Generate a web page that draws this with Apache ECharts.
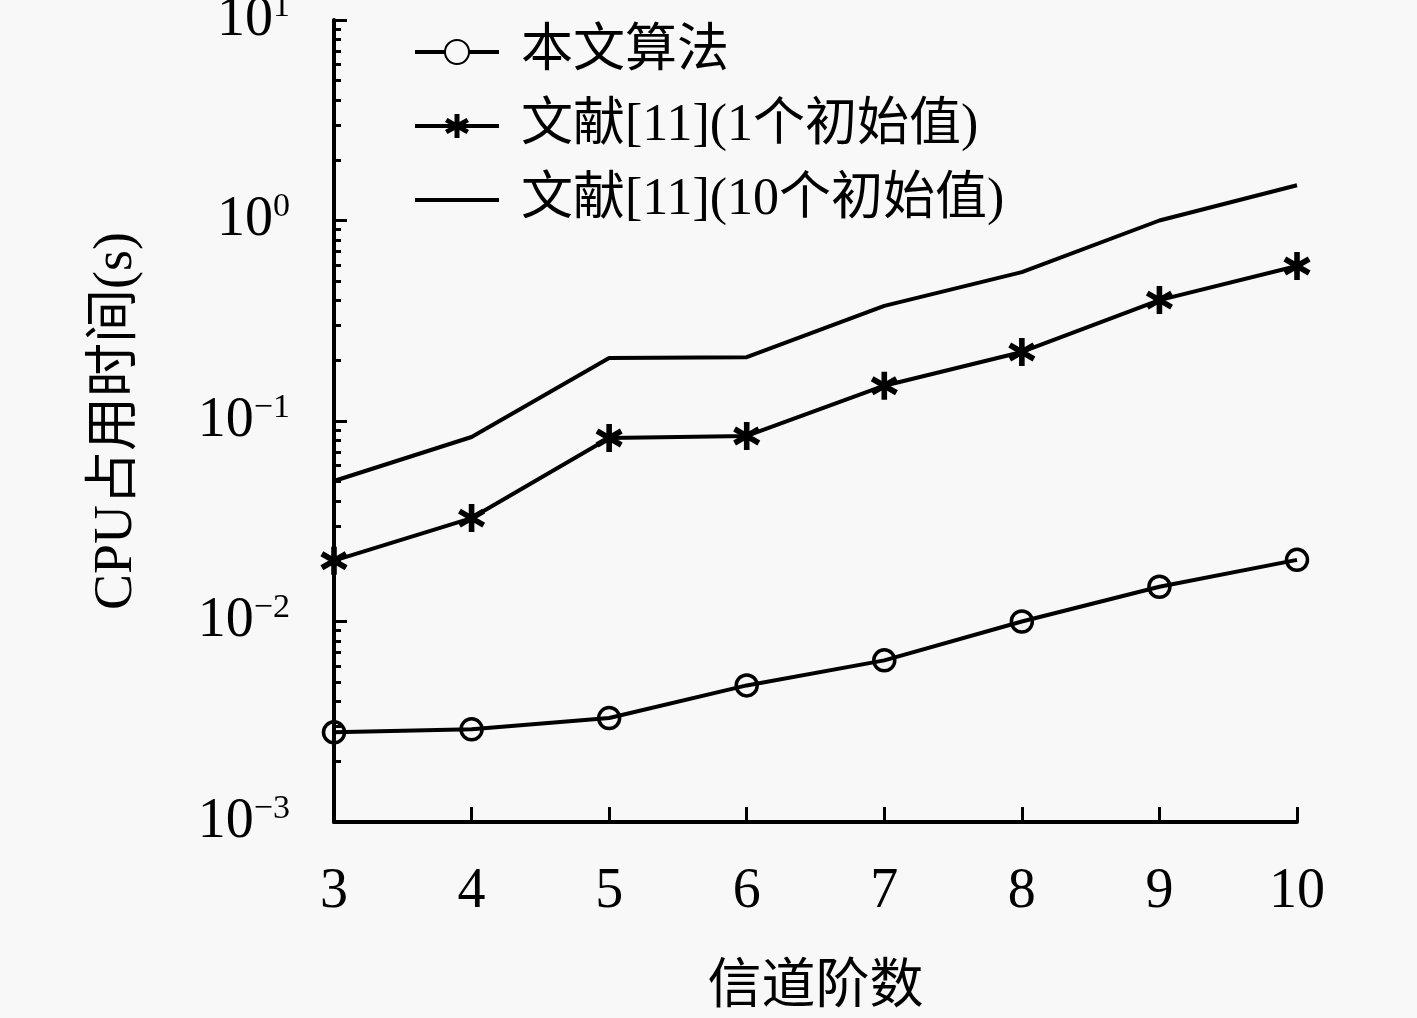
<!DOCTYPE html>
<html>
<head>
<meta charset="utf-8">
<script src="https://cdn.jsdelivr.net/npm/echarts@6/dist/echarts.min.js"></script>
<style>
  html, body { margin: 0; padding: 0; background: #f8f8f8; }
  #chart { width: 1417px; height: 1018px; }
</style>
</head>
<body>
<div id="chart"></div>
<script>
// channel order on the x axis
const orders = [3, 4, 5, 6, 7, 8, 9, 10];
// CPU time (s)
const oursTime = [0.0028, 0.0029, 0.0033, 0.0048, 0.0064, 0.0100, 0.0149, 0.0203];
const ref1Time = [0.0201, 0.0328, 0.0823, 0.0842, 0.150, 0.221, 0.401, 0.593];
const ref10Time = [0.0502, 0.0832, 0.206, 0.208, 0.375, 0.553, 1.00, 1.50];
const seriesNames = ["本文算法", "文献[11](1个初始值)", "文献[11](10个初始值)"];
const yExponents = [-3, -2, -1, 0, 1];

const font = '"Liberation Serif", "Noto Sans CJK SC", serif';
const ink = "#000";
const bg = "#f8f8f8";

// asterisk marker built from three bars
const star = "path://M40,0L60,0L60,100L40,100Z" +
  "M88.3,16.3L98.3,33.7L11.7,83.7L1.7,66.3Z" +
  "M11.7,16.3L98.3,66.3L88.3,83.7L1.7,33.7Z";

// minor log ticks (2..9 in every decade)
let minorTicks = [];
for (let e = yExponents[0]; e < yExponents[yExponents.length - 1]; e++) {
  for (let k = 2; k <= 9; k++) minorTicks.push(e + Math.log10(k));
}

const pairs = (ys) => orders.map((x, i) => [x, ys[i]]);

var myChart = echarts.init(document.getElementById("chart"));
let option = {
  backgroundColor: bg,
  animation: false,
  textStyle: { fontFamily: font, color: ink },
  grid: { left: 334, right: 120, top: 20, bottom: 196, containLabel: false, outerBoundsMode: "none" },
  legend: {
    orient: "vertical",
    left: 413,
    top: 24,
    padding: 0,
    itemWidth: 84,
    itemHeight: 30,
    itemGap: 18,
    lineStyle: { width: 4, color: ink },
    textStyle: { fontFamily: font, fontSize: 52, lineHeight: 56, color: ink, padding: [0, 0, 0, 17] },
    data: [
      { name: seriesNames[0], itemStyle: { color: bg } },
      { name: seriesNames[1] },
      { name: seriesNames[2], itemStyle: { color: "transparent", borderWidth: 0, opacity: 0 } },
    ],
  },
  xAxis: {
    type: "value",
    min: 3,
    max: 10,
    interval: 1,
    name: "信道阶数",
    nameLocation: "middle",
    nameGap: 140,
    nameTextStyle: { fontFamily: font, fontSize: 54, color: ink },
    axisLine: { onZero: false, lineStyle: { color: ink, width: 4 } },
    axisTick: { inside: true, length: 15, lineStyle: { color: ink, width: 3 } },
    axisLabel: { margin: 42, fontSize: 56, color: ink, fontFamily: font },
    splitLine: { show: false },
  },
  yAxis: [
    {
      type: "log",
      logBase: 10,
      min: Math.pow(10, yExponents[0]),
      max: Math.pow(10, yExponents[yExponents.length - 1]),
      name: "CPU占用时间(s)",
      nameLocation: "middle",
      nameGap: 190,
      nameTextStyle: { fontFamily: font, fontSize: 54, color: ink },
      axisLine: { show: true, onZero: false, lineStyle: { color: ink, width: 4 } },
      axisTick: { inside: true, length: 13, lineStyle: { color: ink, width: 3 } },
      axisLabel: {
        margin: 44,
        color: ink,
        formatter: (v) => {
          const e = Math.round(Math.log10(v));
          return "{b|10}{e|" + (e < 0 ? "\u2212" + (-e) : e) + "}";
        },
        rich: {
          b: { fontFamily: font, fontSize: 56, lineHeight: 60, color: ink },
          e: { fontFamily: font, fontSize: 34, lineHeight: 34, verticalAlign: "top", color: ink },
        },
      },
      splitLine: { show: false },
    },
    {
      type: "value",
      min: yExponents[0],
      max: yExponents[yExponents.length - 1],
      position: "left",
      axisLine: { show: false },
      axisLabel: { show: false },
      splitLine: { show: false },
      axisTick: { show: true, inside: true, length: 7, customValues: minorTicks, lineStyle: { color: ink, width: 3 } },
    },
  ],
  series: [
    {
      name: seriesNames[0],
      type: "line",
      data: pairs(oursTime),
      symbol: "circle",
      symbolSize: 21,
      lineStyle: { color: ink, width: 4 },
      itemStyle: { color: "transparent", borderColor: ink, borderWidth: 3.5 },
      z: 3,
    },
    {
      name: seriesNames[1],
      type: "line",
      data: pairs(ref1Time),
      symbol: star,
      symbolSize: 28,
      symbolKeepAspect: true,
      lineStyle: { color: ink, width: 4 },
      itemStyle: { color: ink },
      z: 3,
    },
    {
      name: seriesNames[2],
      type: "line",
      data: pairs(ref10Time),
      symbol: "none",
      lineStyle: { color: ink, width: 4 },
      itemStyle: { color: ink },
      z: 3,
    },
  ],
};
myChart.setOption(option);
</script>
</body>
</html>
